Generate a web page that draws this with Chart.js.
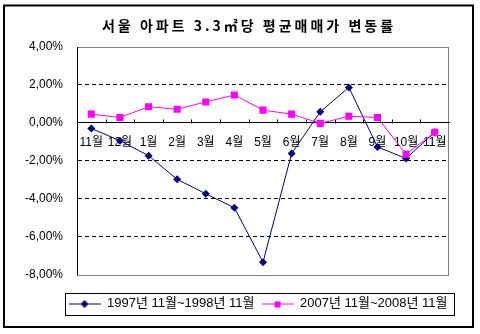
<!DOCTYPE html>
<html><head><meta charset="utf-8">
<script src="https://cdn.jsdelivr.net/npm/chart.js@4/dist/chart.umd.min.js"></script>
<style>html,body{margin:0;padding:0;background:#fff;}</style>
</head><body>
<canvas id="c" width="480" height="334"></canvas>
<script>
const chartTitle = '서울 아파트 3.3㎡당 평균매매가 변동률';
const categories = ['11월','12월','1월','2월','3월','4월','5월','6월','7월','8월','9월','10월','11월'];
const label1997 = '1997년 11월~1998년 11월';
const label2007 = '2007년 11월~2008년 11월';
const series1997 = [-0.30,-0.94,-1.73,-2.98,-3.74,-4.48,-7.35,-1.62,0.58,1.87,-1.27,-1.88,-0.50];
const series2007 = [0.46,0.28,0.85,0.72,1.10,1.47,0.67,0.46,-0.03,0.35,0.28,-1.66,-0.50];
const yTickValues = [4,2,0,-2,-4,-6,-8];
const yTickLabels = ['4,00%','2,00%','0,00%','-2,00%','-4,00%','-6,00%','-8,00%'];

const NAVY = '#000080', MAGENTA = '#FF00FF';
const FONT = "'Liberation Sans', 'Noto Sans CJK KR', sans-serif";

function legendImg(color, shape){
  const c = document.createElement('canvas'); c.width = 32; c.height = 10;
  const g = c.getContext('2d');
  g.strokeStyle = color; g.lineWidth = 1;
  g.beginPath(); g.moveTo(0,5.5); g.lineTo(32,5.5); g.stroke();
  g.fillStyle = color;
  if (shape === 'diamond') { g.beginPath(); g.moveTo(16,1.5); g.lineTo(20,5.5); g.lineTo(16,9.5); g.lineTo(12,5.5); g.closePath(); g.fill(); }
  else { g.fillRect(13,3,6,6); }
  return c;
}
const legendImgs = [legendImg(NAVY,'diamond'), legendImg(MAGENTA,'square')];

const spacers = {
  id: 'spacers',
  beforeInit(chart){
    const mk = (pos, size, weight) => ({
      position: pos, weight: weight, fullSize: false, options: {},
      isHorizontal(){ return pos === 'top' || pos === 'bottom'; },
      update(w, h){ if (this.isHorizontal()) { this.width = w; this.height = size; } else { this.width = size; this.height = h; } },
      draw(){}
    });
    Chart.layouts.addBox(chart, mk('bottom', 15.5, 500));
    Chart.layouts.addBox(chart, mk('right', 23, 500));
  },
  afterLayout(chart){
    const lg = chart.legend;
    if (lg) { lg.left = 44; lg.right = 472; lg.width = 428; }
  }
};

const decor = {
  id: 'decor',
  beforeDraw(chart){
    const ctx = chart.ctx, a = chart.chartArea;
    ctx.save();
    ctx.strokeStyle = '#808080'; ctx.lineWidth = 1;
    ctx.strokeRect(Math.round(a.left)+0.5, Math.round(a.top)+0.5, Math.round(a.right-a.left)-1, Math.round(a.bottom-a.top));
    ctx.restore();
  },
  beforeDatasetsDraw(chart){
    const ctx = chart.ctx, xs = chart.scales.x, ys = chart.scales.y;
    const y0 = Math.round(ys.getPixelForValue(0)) + 0.5;
    ctx.save(); ctx.strokeStyle = '#000'; ctx.lineWidth = 1; ctx.beginPath();
    for (let i = 0; i < categories.length - 1; i++) {
      const x = Math.round(xs.getPixelForValue(i + 0.5)) + 0.5;
      ctx.moveTo(x, y0); ctx.lineTo(x, y0 - 4);
    }
    ctx.stroke(); ctx.restore();
  },
  afterDraw(chart){
    const ctx = chart.ctx;
    ctx.save();
    ctx.fillStyle = '#000';
    ctx.font = "bold 14px 'Noto Sans CJK KR', sans-serif";
    if ('letterSpacing' in ctx) ctx.letterSpacing = '3px';
    ctx.textAlign = 'center'; ctx.textBaseline = 'middle';
    ctx.fillText(chartTitle, 249, 25.5);
    if ('letterSpacing' in ctx) ctx.letterSpacing = '0px';
    const hb = chart.legend && chart.legend.legendHitBoxes;
    if (hb && hb.length) {
      const l = Math.round(hb[0].left - 4) + 0.5;
      const last = hb[hb.length - 1];
      const r = Math.round(last.left + last.width + 7) + 0.5;
      const t = Math.round(hb[0].top - 4.5) + 0.5;
      const b = Math.round(hb[0].top + hb[0].height + 4.5) + 0.5;
      ctx.strokeStyle = '#000'; ctx.lineWidth = 1;
      ctx.strokeRect(l, t, r - l, b - t);
    }
    ctx.strokeStyle = '#000'; ctx.lineWidth = 2;
    ctx.strokeRect(4, 5.5, 469, 321.5);
    ctx.restore();
  }
};

new Chart(document.getElementById('c'), {
  type: 'line',
  data: {
    labels: categories,
    datasets: [
      { label: label1997, data: series1997, borderColor: NAVY, backgroundColor: NAVY, borderWidth: 1,
        pointStyle: 'rectRot', pointRadius: 4, pointBorderWidth: 0, pointBackgroundColor: NAVY, tension: 0, order: 1 },
      { label: label2007, data: series2007, borderColor: MAGENTA, backgroundColor: MAGENTA, borderWidth: 1,
        pointStyle: 'rect', pointRadius: 5, pointBorderWidth: 0, pointBackgroundColor: MAGENTA, tension: 0, order: 0 }
    ]
  },
  options: {
    responsive: false, animation: false, devicePixelRatio: 1,
    layout: { padding: { top: 47, left: 0, right: 8, bottom: 14 } },
    plugins: {
      title: { display: false },
      tooltip: { enabled: false },
      legend: {
        position: 'bottom', fullSize: true, align: 'center',
        labels: {
          usePointStyle: true, pointStyleWidth: 32, padding: 7, color: '#000',
          font: { family: FONT, size: 13 },
          sort: (a, b) => a.datasetIndex - b.datasetIndex,
          generateLabels: (chart) => Chart.defaults.plugins.legend.labels.generateLabels(chart).map(l => Object.assign(l, { pointStyle: legendImgs[l.datasetIndex] }))
        }
      }
    },
    scales: {
      x: {
        type: 'category', offset: true, position: { y: 0 },
        grid: { display: true, color: 'rgba(0,0,0,0)', drawTicks: false },
        border: { display: true, color: '#000', width: 1 },
        ticks: { color: '#000', font: { family: FONT, size: 12 }, padding: 13, maxRotation: 0, autoSkip: false }
      },
      y: {
        min: -8, max: 4, position: 'left',
        afterFit: (s) => { s.width = 77; },
        ticks: { stepSize: 2, padding: 14, color: '#000', font: { family: FONT, size: 12 },
          callback: (v) => { const i = yTickValues.indexOf(v); return i >= 0 ? yTickLabels[i] : ''; } },
        grid: { drawTicks: false, lineWidth: 1,
          color: (c) => (c.tick && [2,-2,-4,-6].includes(c.tick.value)) ? '#000' : 'rgba(0,0,0,0)' },
        border: { display: true, color: '#000', width: 1, dash: [4,3] }
      }
    }
  },
  plugins: [spacers, decor]
});
</script>
</body></html>
